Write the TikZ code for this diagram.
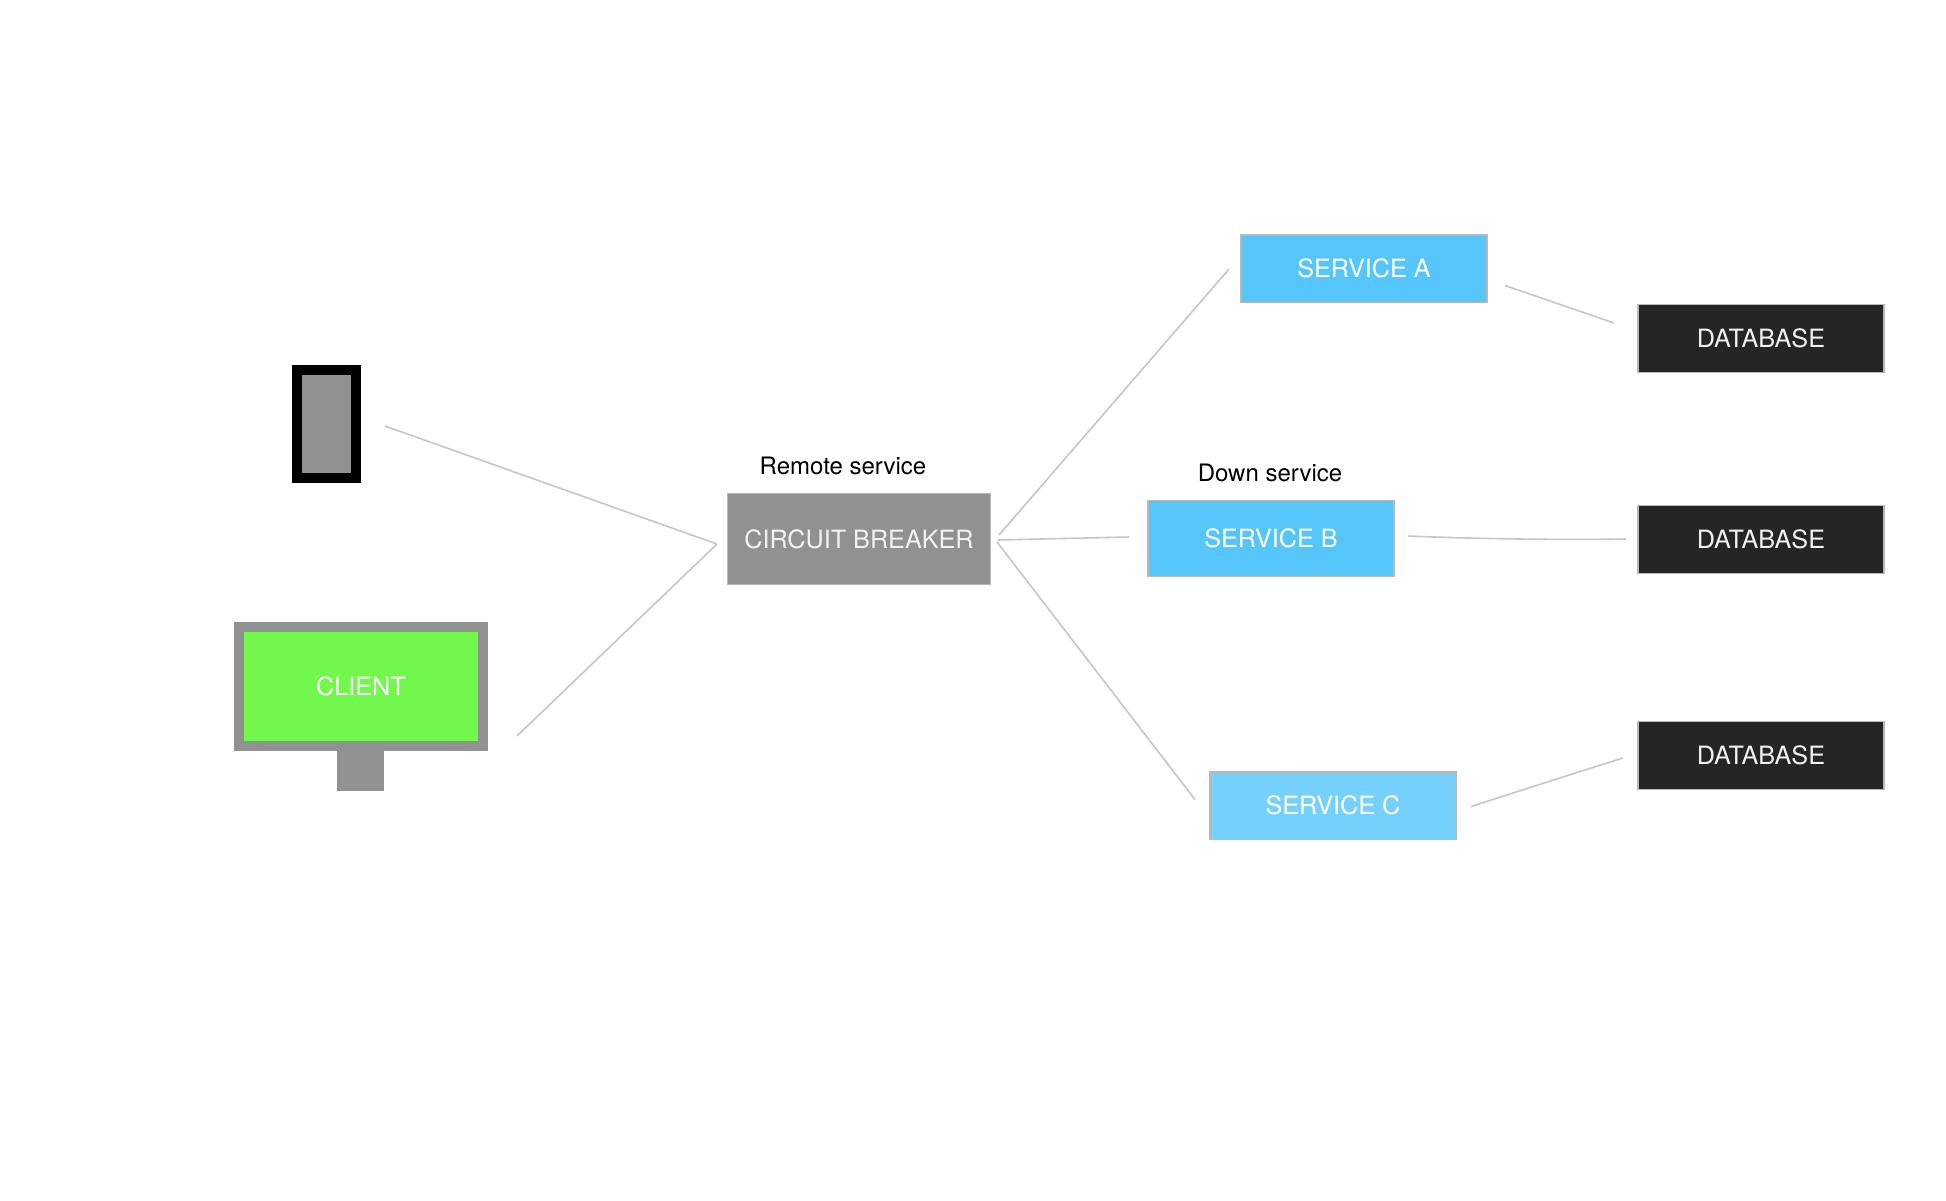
\documentclass[tikz,border=0pt]{standalone}
\usepackage{fontspec}
\setmainfont{TeX Gyre Heros}
\definecolor{shellgrey}{HTML}{919191}
\definecolor{screengreen}{HTML}{72F74C}
\definecolor{svcblue}{HTML}{56C5FA}
\definecolor{svclight}{HTML}{75D1FB}
\definecolor{dbdark}{HTML}{252525}
\definecolor{edgegrey}{HTML}{B8B8B8}
\definecolor{linkgrey}{HTML}{C6C6C6}
\definecolor{softwhite}{HTML}{F2F2F2}
\tikzset{
  base/.style={inner sep=0pt,font=\fontsize{25.2pt}{28pt}\selectfont,anchor=center},
  svcbox/.style={base,draw=edgegrey,line width=1.1pt,text=softwhite,minimum width=246pt},
  dbbox/.style={svcbox,fill=dbdark,minimum height=67.5pt},
  blueA/.style={svcbox,fill=svcblue,text=white},
  blueC/.style={svcbox,fill=svclight,text=white},
  caption/.style={base,text=black,font=\fontsize{24pt}{27pt}\selectfont},
  link/.style={draw=linkgrey,line width=1.6pt},
}
\begin{document}
\begin{tikzpicture}[x=1pt,y=-1pt]
\useasboundingbox (0,0) rectangle (1946,1200);
\fill[white] (0,0) rectangle (1946,1200);

% devices
\node[base,fill=shellgrey,draw=black,line width=10pt,minimum width=59pt,minimum height=108pt] (phone) at (326.5,424) {};
\node[base,fill=shellgrey,minimum width=47pt,minimum height=41pt] (stand) at (360.5,770) {};
\node[base,fill=screengreen,draw=shellgrey,line width=10pt,text=white,minimum width=244pt,minimum height=119pt] (client) at (361,686) {CLIENT};

% breaker and services
\node[svcbox,fill=shellgrey,minimum width=263pt,minimum height=90.5pt] (breaker) at (859,539) {CIRCUIT BREAKER};
\node[blueA,minimum height=67.5pt] (svca) at (1364,268.7) {SERVICE A};
\node[blueA,minimum height=75.5pt] (svcb) at (1271,538.5) {SERVICE B};
\node[blueC,minimum height=67.5pt] (svcc) at (1333,805.7) {SERVICE C};

% databases
\node[dbbox] (dba) at (1761,338.5) {DATABASE};
\node[dbbox] (dbb) at (1761,539.5) {DATABASE};
\node[dbbox] (dbc) at (1761,755.5) {DATABASE};

% captions
\node[caption] (remote) at (843,466) {Remote service};
\node[caption] (down) at (1270,473) {Down service};

% connector ends
\coordinate (hub) at (717,544);
\coordinate (phoneout) at (385,426);
\coordinate (clientout) at (517,736);
\coordinate (breakA) at (999,535);
\coordinate (breakB) at (998,540);
\coordinate (breakC) at (997,542);
\coordinate (inA) at (1229,269);
\coordinate (inB) at (1129,537);
\coordinate (inC) at (1195,799.5);
\coordinate (outA) at (1505,285.5);
\coordinate (dbinA) at (1614,323);
\coordinate (outB) at (1408,536);
\coordinate (dbinB) at (1626,539);
\coordinate (outC) at (1471,806.5);
\coordinate (dbinC) at (1623,758);

\draw[link] (phoneout) -- (hub);
\draw[link] (clientout) -- (hub);
\draw[link] (breakA) -- (inA);
\draw[link] (breakB) -- (inB);
\draw[link] (breakC) -- (inC);
\draw[link] (outA) -- (dbinA);
\draw[link] (outB) .. controls (1480,539) and (1560,540) .. (dbinB);
\draw[link] (outC) .. controls (1522,790) and (1572,774) .. (dbinC);
\end{tikzpicture}
\end{document}
